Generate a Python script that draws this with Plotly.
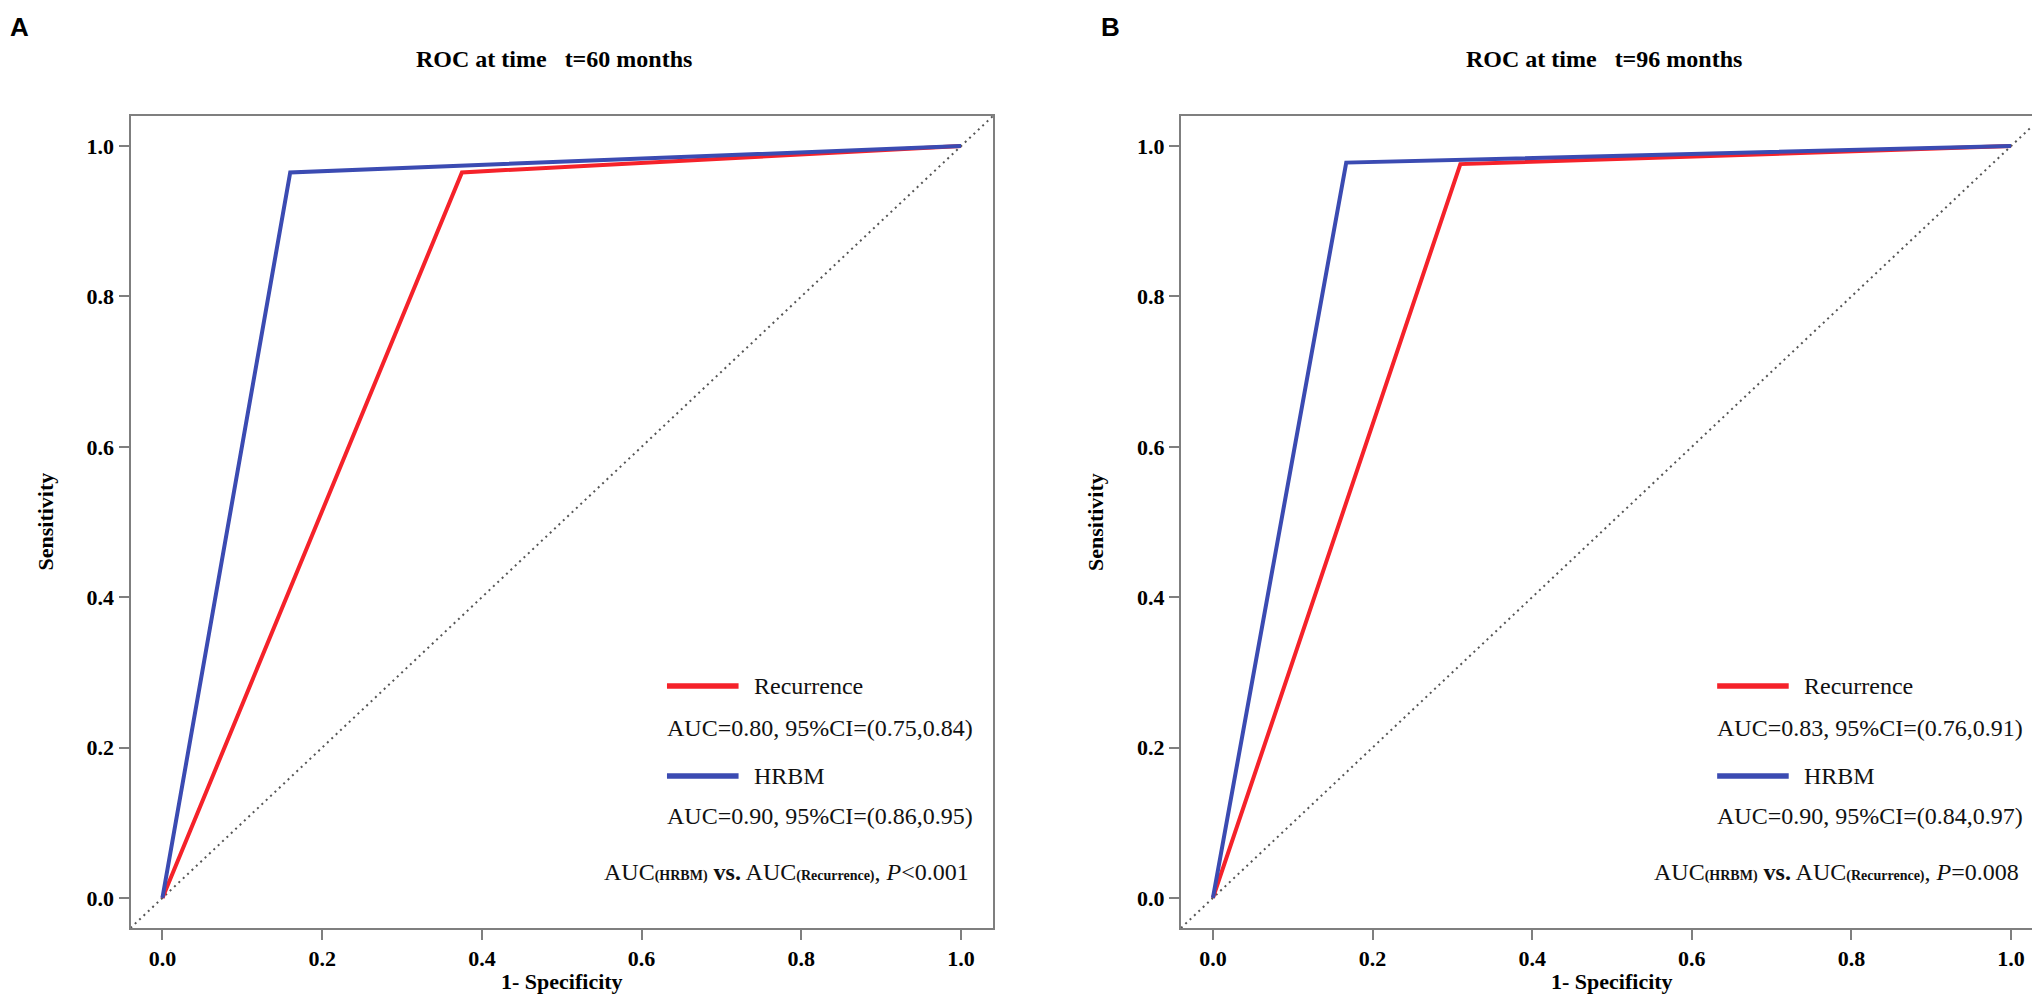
import plotly.graph_objects as go

# ---------------- data ----------------
panel_labels = ["A", "B"]
panel_titles = ["ROC at time\u00a0\u00a0\u00a0t=60 months", "ROC at time\u00a0\u00a0\u00a0t=96 months"]

fpr_rec_60 = [0.0, 0.375, 1.0]
tpr_rec_60 = [0.0, 0.965, 1.0]
fpr_hrbm_60 = [0.0, 0.160, 1.0]
tpr_hrbm_60 = [0.0, 0.965, 1.0]

fpr_rec_96 = [0.0, 0.310, 1.0]
tpr_rec_96 = [0.0, 0.976, 1.0]
fpr_hrbm_96 = [0.0, 0.167, 1.0]
tpr_hrbm_96 = [0.0, 0.978, 1.0]

ref_line = [-0.04, 1.04]

series_names = ["Recurrence", "HRBM"]
auc_text_60 = ["AUC=0.80, 95%CI=(0.75,0.84)", "AUC=0.90, 95%CI=(0.86,0.95)"]
auc_text_96 = ["AUC=0.83, 95%CI=(0.76,0.91)", "AUC=0.90, 95%CI=(0.84,0.97)"]
p_text = ["&lt;0.001", "=0.008"]

tick_vals = [0.0, 0.2, 0.4, 0.6, 0.8, 1.0]
tick_text = ["0.0", "0.2", "0.4", "0.6", "0.8", "1.0"]

# ---------------- style ----------------
W, H = 2040, 997
RED = "#F5222A"
BLUE = "#3B4BB2"
AXIS_COL = "#7f7f7f"
SERIF = "Liberation Serif, Times New Roman, serif"
SANS = "Liberation Sans, Arial, sans-serif"

fig = go.Figure()

panels = [
    (fpr_rec_60, tpr_rec_60, fpr_hrbm_60, tpr_hrbm_60, auc_text_60),
    (fpr_rec_96, tpr_rec_96, fpr_hrbm_96, tpr_hrbm_96, auc_text_96),
]

for i, (fr, tr, fh, th, auc_t) in enumerate(panels):
    xa = "x" if i == 0 else "x2"
    ya = "y" if i == 0 else "y2"
    fig.add_trace(go.Scatter(x=ref_line, y=ref_line, mode="lines", xaxis=xa, yaxis=ya,
                             line=dict(color="#555555", width=2, dash="2px,4px"),
                             showlegend=False, hoverinfo="skip"))
    fig.add_trace(go.Scatter(x=fr, y=tr, mode="lines", xaxis=xa, yaxis=ya,
                             line=dict(color=RED, width=4), showlegend=False,
                             name=series_names[0]))
    fig.add_trace(go.Scatter(x=fh, y=th, mode="lines", xaxis=xa, yaxis=ya,
                             line=dict(color=BLUE, width=4), showlegend=False,
                             name=series_names[1]))

px2x = lambda p: p / W
px2y = lambda p: 1 - p / H

domA = [px2x(122.5), px2x(985)]
domB = [px2x(1173), px2x(2035)]
ydom = [px2y(920), px2y(108)]

axis_common = dict(
    range=[-0.04, 1.04], showline=True, mirror=True, linecolor=AXIS_COL, linewidth=2,
    ticks="outside", ticklen=10, tickwidth=2, tickcolor=AXIS_COL,
    tickvals=tick_vals, ticktext=tick_text, showgrid=False, zeroline=False,
    tickfont=dict(family=SERIF, size=22, color="black", weight="bold"),
    fixedrange=True,
)

fig.update_layout(
    width=W, height=H, margin=dict(l=0, r=0, t=0, b=0),
    paper_bgcolor="white", plot_bgcolor="white",
    xaxis=dict(domain=domA, anchor="y", **axis_common),
    yaxis=dict(domain=ydom, anchor="x", **axis_common),
    xaxis2=dict(domain=domB, anchor="y2", **axis_common),
    yaxis2=dict(domain=ydom, anchor="x2", **axis_common),
)

annotations = []
shapes = []
doms = [domA, domB]
for i in range(2):
    xd = "x domain" if i == 0 else "x2 domain"
    yd = "y domain" if i == 0 else "y2 domain"
    auc_t = panels[i][4]
    dom = doms[i]
    # panel letter
    annotations.append(dict(xref="paper", yref="paper", x=px2x(0 if i == 0 else 1091), y=px2y(2),
                            xanchor="left", yanchor="top", showarrow=False, text=panel_labels[i],
                            font=dict(family=SANS, size=26, color="black", weight="bold")))
    # title
    annotations.append(dict(xref="paper", yref="paper", x=(dom[0] + dom[1]) / 2 - px2x(8), y=px2y(51),
                            xanchor="center", yanchor="middle", showarrow=False, text=panel_titles[i],
                            font=dict(family=SERIF, size=24, color="black", weight="bold")))
    # axis titles
    annotations.append(dict(xref="paper", yref="paper", x=(dom[0] + dom[1]) / 2, y=px2y(973),
                            xanchor="center", yanchor="middle", showarrow=False, text="1- Specificity",
                            font=dict(family=SERIF, size=22, color="black", weight="bold")))
    annotations.append(dict(xref="paper", yref="paper", x=dom[0] - px2x(86), y=(ydom[0] + ydom[1]) / 2,
                            xanchor="center", yanchor="middle", showarrow=False, text="Sensitivity",
                            textangle=-90,
                            font=dict(family=SERIF, size=22, color="black", weight="bold")))
    # legend
    rows = [(0.298, 0.2463, RED, series_names[0], auc_t[0]),
            (0.1872, 0.1379, BLUE, series_names[1], auc_t[1])]
    for (yl, ya_, col, nm, at) in rows:
        shapes.append(dict(type="line", xref=xd, yref=yd, x0=0.622, x1=0.705, y0=yl, y1=yl,
                           line=dict(color=col, width=5.5)))
        annotations.append(dict(xref=xd, yref=yd, x=0.720, y=yl, xanchor="left", yanchor="middle",
                                showarrow=False, text=nm,
                                font=dict(family=SERIF, size=24, color="#111111")))
        annotations.append(dict(xref=xd, yref=yd, x=0.620, y=ya_, xanchor="left", yanchor="middle",
                                showarrow=False, text=at,
                                font=dict(family=SERIF, size=24, color="#111111")))
    ptxt = ("AUC<span style='font-size:14px'><b>(HRBM)</b></span> <b>vs.</b> "
            "AUC<span style='font-size:14px'><b>(Recurrence)</b></span>, <i>P</i>" + p_text[i])
    annotations.append(dict(xref=xd, yref=yd, x=0.974, y=0.069, xanchor="right", yanchor="middle",
                            showarrow=False, text=ptxt,
                            font=dict(family=SERIF, size=24, color="#111111")))

fig.update_layout(annotations=annotations, shapes=shapes)

fig.write_html("out.html", config={"displayModeBar": False})
